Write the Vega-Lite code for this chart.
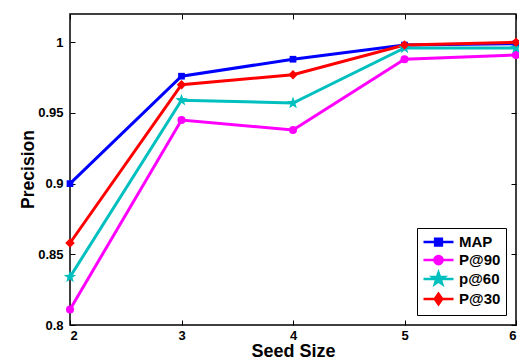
{
  "$schema": "https://vega.github.io/schema/vega-lite/v6.json",
  "width": 446,
  "height": 311,
  "autosize": {"type": "none"},
  "padding": {"left": 70, "top": 14, "right": 3, "bottom": 35},
  "background": "white",
  "config": {
    "view": {"stroke": "black", "strokeWidth": 1.5},
    "axis": {
      "labelFont": "Liberation Sans", "labelFontWeight": "bold", "labelFontSize": 13, "labelColor": "black",
      "titleFont": "Liberation Sans", "titleFontWeight": "bold", "titleColor": "black",
      "tickColor": "black", "tickSize": -5, "tickWidth": 1, "domain": false, "grid": false
    },
    "legend": {
      "labelFont": "Liberation Sans", "labelFontWeight": "bold", "labelFontSize": 15, "labelColor": "black"
    }
  },
  "data": {"values": [
    {"series": "MAP", "x": 2, "y": 0.900},
    {"series": "MAP", "x": 3, "y": 0.976},
    {"series": "MAP", "x": 4, "y": 0.988},
    {"series": "MAP", "x": 5, "y": 0.998},
    {"series": "MAP", "x": 6, "y": 0.999},
    {"series": "P@90", "x": 2, "y": 0.811},
    {"series": "P@90", "x": 3, "y": 0.945},
    {"series": "P@90", "x": 4, "y": 0.938},
    {"series": "P@90", "x": 5, "y": 0.988},
    {"series": "P@90", "x": 6, "y": 0.991},
    {"series": "p@60", "x": 2, "y": 0.834},
    {"series": "p@60", "x": 3, "y": 0.959},
    {"series": "p@60", "x": 4, "y": 0.957},
    {"series": "p@60", "x": 5, "y": 0.996},
    {"series": "p@60", "x": 6, "y": 0.996},
    {"series": "P@30", "x": 2, "y": 0.858},
    {"series": "P@30", "x": 3, "y": 0.970},
    {"series": "P@30", "x": 4, "y": 0.977},
    {"series": "P@30", "x": 5, "y": 0.998},
    {"series": "P@30", "x": 6, "y": 1.000}
  ]},
  "layer": [
    {
      "mark": {"type": "line", "strokeWidth": 3},
      "encoding": {
        "x": {"field": "x", "type": "quantitative",
          "scale": {"domain": [2, 6], "nice": false, "zero": false},
          "axis": {"orient": "bottom", "values": [2, 3, 4, 5, 6], "format": "d", "title": "Seed Size", "titleFontSize": 18, "labelPadding": 9, "titleX": 223, "titleY": 26.5, "titleBaseline": "middle"}},
        "y": {"field": "y", "type": "quantitative",
          "scale": {"domain": [0.8, 1.02], "nice": false, "zero": false},
          "axis": {"orient": "left", "values": [0.8, 0.85, 0.9, 0.95, 1], "format": "~g", "title": "Precision", "titleFontSize": 17.5, "labelPadding": 12, "titleX": -42, "titleY": 155, "titleBaseline": "middle"}},
        "color": {"field": "series", "type": "nominal",
          "scale": {"domain": ["MAP", "P@90", "p@60", "P@30"], "range": ["#0000ff", "#ff00ff", "#00bfbf", "#ff0000"]},
          "legend": {
            "title": null, "orient": "bottom-right", "offset": 10,
            "strokeColor": "black", "fillColor": "white", "padding": 5,
            "symbolSize": 225, "labelOffset": 19, "rowPadding": -4,
            "encode": {"symbols": {"update": {
              "shape": {"signal": "datum.value === 'MAP' ? 'M-1,0H3M0.55,-0.45H1.45V0.45H0.55Z' : datum.value === 'P@90' ? 'M-1,0H3M0.45,0A0.55,0.55,0,1,1,1.55,0A0.55,0.55,0,1,1,0.45,0Z' : datum.value === 'p@60' ? 'M-1,0H3M1,-0.85L1.2,-0.275L1.808,-0.263L1.323,0.105L1.5,0.688L1,0.34L0.5,0.688L0.677,0.105L0.192,-0.263L0.8,-0.275Z' : 'M-1,0H3M1,-0.7L1.5,0L1,0.7L0.5,0Z'"},
              "fill": {"signal": "scale('color', datum.value)"},
              "stroke": {"signal": "scale('color', datum.value)"},
              "strokeWidth": {"value": 2.5},
              "opacity": {"value": 1}
            }}}
          }},
        "order": {"field": "x", "type": "quantitative"}
      }
    },
    {
      "transform": [{"filter": "datum.series === 'MAP'"}],
      "mark": {"type": "point", "filled": true, "opacity": 1, "shape": "square", "size": 45},
      "encoding": {
        "x": {"field": "x", "type": "quantitative",
          "axis": {"orient": "top", "values": [2, 3, 4, 5, 6], "labels": false, "title": null}},
        "y": {"field": "y", "type": "quantitative",
          "axis": {"orient": "right", "values": [0.8, 0.85, 0.9, 0.95, 1], "labels": false, "title": null}},
        "color": {"field": "series", "type": "nominal"}
      }
    },
    {
      "transform": [{"filter": "datum.series === 'P@90'"}],
      "mark": {"type": "point", "filled": true, "opacity": 1, "shape": "circle", "size": 65},
      "encoding": {
        "x": {"field": "x", "type": "quantitative", "axis": null},
        "y": {"field": "y", "type": "quantitative", "axis": null},
        "color": {"field": "series", "type": "nominal"}
      }
    },
    {
      "transform": [{"filter": "datum.series === 'p@60'"}],
      "mark": {"type": "point", "filled": true, "opacity": 1, "shape": "M0,-1L0.235,-0.324L0.951,-0.309L0.38,0.124L0.588,0.809L0,0.4L-0.588,0.809L-0.38,0.124L-0.951,-0.309L-0.235,-0.324Z", "size": 170},
      "encoding": {
        "x": {"field": "x", "type": "quantitative", "axis": null},
        "y": {"field": "y", "type": "quantitative", "axis": null},
        "color": {"field": "series", "type": "nominal"}
      }
    },
    {
      "transform": [{"filter": "datum.series === 'P@30'"}],
      "mark": {"type": "point", "filled": true, "opacity": 1, "shape": "diamond", "size": 90},
      "encoding": {
        "x": {"field": "x", "type": "quantitative", "axis": null},
        "y": {"field": "y", "type": "quantitative", "axis": null},
        "color": {"field": "series", "type": "nominal"}
      }
    }
  ],
  "resolve": {"axis": {"x": "independent", "y": "independent"}}
}
